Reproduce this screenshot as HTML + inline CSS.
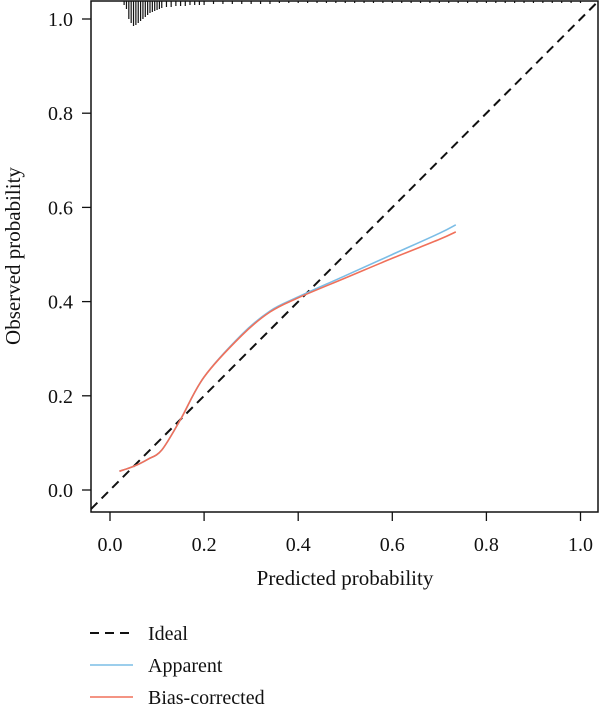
<!DOCTYPE html>
<html><head><meta charset="utf-8"><style>
body{margin:0;background:#fff;}
svg text{font-family:"Liberation Serif",serif;fill:#111;}
</style></head><body>
<svg width="600" height="713" viewBox="0 0 600 713">
<g id="plot"></g>
<g id="legend"></g>
</svg>
<script>
const xTicks=[0,0.2,0.4,0.6,0.8,1.0];
const yTicks=[0,0.2,0.4,0.6,0.8,1.0];
const tickLabels=["0.0","0.2","0.4","0.6","0.8","1.0"];
const apparentX=[0.02,0.05,0.08,0.11,0.15,0.2,0.28,0.34,0.4,0.5,0.6,0.7,0.735];
const apparentY=[0.04,0.05,0.065,0.085,0.15,0.24,0.33,0.38,0.41,0.455,0.5,0.545,0.563];
const biasX=[0.02,0.05,0.08,0.11,0.15,0.2,0.28,0.34,0.4,0.5,0.6,0.7,0.735];
const biasY=[0.04,0.05,0.065,0.085,0.15,0.24,0.328,0.378,0.408,0.45,0.492,0.532,0.548];
const rugX=[0.03,0.035,0.04,0.045,0.05,0.055,0.06,0.065,0.07,0.075,0.08,0.085,0.09,0.095,0.1,0.105,0.11,0.12,0.13,0.14,0.15,0.16,0.17,0.18,0.19,0.2,0.22,0.24,0.26,0.28,0.3,0.32,0.34,0.36,0.38,0.4,0.42,0.44,0.46,0.48,0.5,0.52,0.54,0.56,0.58,0.6,0.62,0.64,0.66,0.68,0.7,0.72,0.74,0.76,0.78,0.8,0.82,0.84,0.86,0.88,0.9,0.92,0.94,0.96,0.98,1.0];
const rugLen=[4,8,18,22,25,24,22,20,18,16,14,12,11,10,9,8,7,6,6,5,5,5,4,4,4,4,3,3,3,3,3,3,3,2,2,2,2,2,2,2,2,2,2,2,2,2,2,2,2,2,2,2,2,2,2,2,2,2,2,2,2,2,2,2,2,2];
const X=v=>110+v*470.5, Y=v=>490-v*471;
const NS="http://www.w3.org/2000/svg";
const plot=document.getElementById('plot'), leg=document.getElementById('legend');
function mk(tag,at,parent,name){const e=document.createElementNS(NS,tag);for(const k in at)e.setAttribute(k,at[k]);


parent.appendChild(e);return e;}
mk('rect',{x:91,y:1,width:507,height:511,fill:'none',stroke:'#111','stroke-width':1.5},plot,'plot-frame');
xTicks.forEach((t,i)=>{mk('line',{x1:X(t),x2:X(t),y1:512,y2:521,stroke:'#111','stroke-width':1.3},plot,'x-tick');
const tx=mk('text',{x:X(t),y:551,'font-size':20,'text-anchor':'middle'},plot,'x-tick-label');tx.textContent=tickLabels[i];});
yTicks.forEach((t,i)=>{mk('line',{x1:82,x2:91,y1:Y(t),y2:Y(t),stroke:'#111','stroke-width':1.3},plot,'y-tick');
const tx=mk('text',{x:73,y:Y(t)+7,'font-size':20,'text-anchor':'end'},plot,'y-tick-label');tx.textContent=tickLabels[i];});
const xl=mk('text',{x:345,y:585,'font-size':21,'text-anchor':'middle'},plot,'x-axis-title');xl.textContent='Predicted probability';
const yl=mk('text',{x:0,y:0,'font-size':21,'text-anchor':'middle',transform:'translate(20,256) rotate(-90)'},plot,'y-axis-title');yl.textContent='Observed probability';
rugX.forEach((v,i)=>mk('line',{x1:X(v),x2:X(v),y1:1,y2:1+rugLen[i],stroke:'#111','stroke-width':1.2},plot,'rug-tick'));
const x0=(91-110)/470.5, x1=(598-110)/470.5;
mk('line',{x1:91,y1:Y(x0),x2:598,y2:Y(x1),stroke:'#111','stroke-width':2,'stroke-dasharray':'9,6'},plot,'ideal-line');
function smooth(xs,ys){const p=xs.map((v,i)=>[X(v),Y(ys[i])]);let d='M'+p[0][0].toFixed(1)+','+p[0][1].toFixed(1);
for(let i=0;i<p.length-1;i++){const a=p[i-1]||p[i],b=p[i],c=p[i+1],e=p[i+2]||c;
d+=' C'+(b[0]+(c[0]-a[0])/6).toFixed(1)+','+(b[1]+(c[1]-a[1])/6).toFixed(1)+' '+(c[0]-(e[0]-b[0])/6).toFixed(1)+','+(c[1]-(e[1]-b[1])/6).toFixed(1)+' '+c[0].toFixed(1)+','+c[1].toFixed(1);}
return d;}
mk('path',{d:smooth(apparentX,apparentY),fill:'none',stroke:'#7bbde6','stroke-width':1.6},plot,'apparent-line');
mk('path',{d:smooth(biasX,biasY),fill:'none',stroke:'#f0705a','stroke-width':1.6},plot,'bias-corrected-line');
const items=[['Ideal','#111','9,6',2,'legend-ideal'],['Apparent','#7bbde6','',1.6,'legend-apparent'],['Bias-corrected','#f0705a','',1.6,'legend-bias-corrected']];
items.forEach((it,i)=>{const y=633+i*32;
mk('line',{x1:90,x2:133,y1:y,y2:y,stroke:it[1],'stroke-width':it[3],'stroke-dasharray':it[2]||'none'},leg,it[4]+'-line');
const t=mk('text',{x:148,y:y+7,'font-size':20},leg,it[4]+'-label');t.textContent=it[0];});
</script>
</body></html>
